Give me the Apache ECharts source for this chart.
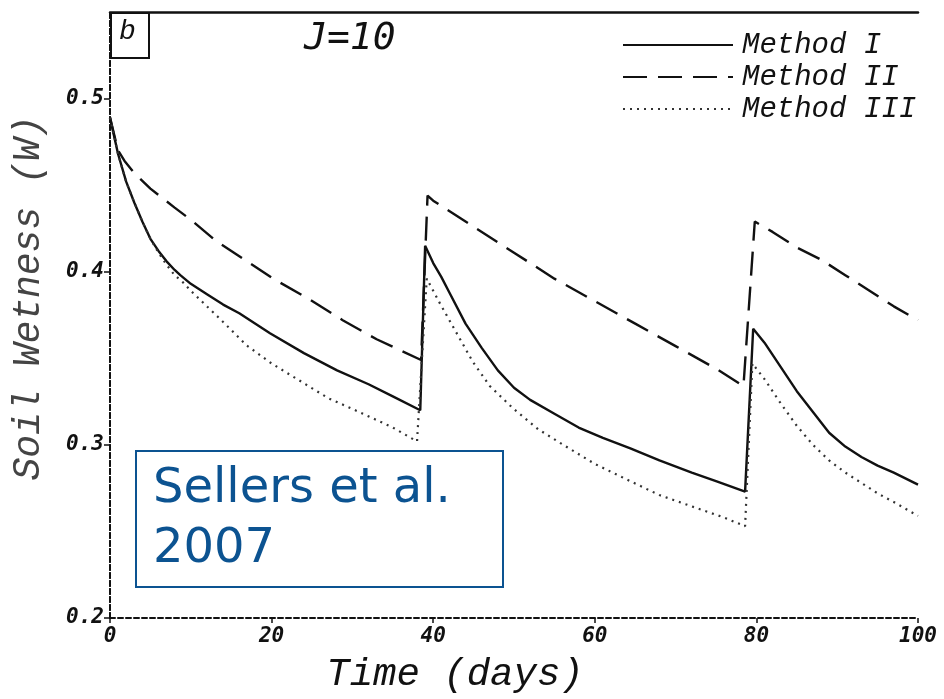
<!DOCTYPE html>
<html>
<head>
<meta charset="utf-8">
<script src="https://cdn.jsdelivr.net/npm/echarts@6/dist/echarts.min.js"></script>
<style>html,body{margin:0;padding:0;background:#fff}#c{width:944px;height:699px}</style>
</head>
<body>
<div id="c"></div>
<script>
// ---- data ----
const xTicks = [0, 20, 40, 60, 80, 100];
const yTicks = [0.2, 0.3, 0.4, 0.5];
const seriesNames = ['Method I', 'Method II', 'Method III'];

const timeI = [0,1,2,3,4,5,6,7,8,8.7,10,12,14,16,19.8,24,28.1,32,35,38.4,
  39.0,40,41,42,44,46,48,50,52,55,58,61,64.4,68,72,75,78.6,
  79.6,81,83,85,87,89,91,93,95,97,100];
const wetI = [0.489,0.468,0.452,0.440,0.429,0.419,0.412,0.406,0.401,0.398,0.393,0.387,0.381,0.376,0.3645,0.353,0.343,0.335,0.328,0.320,
  0.415,0.405,0.397,0.388,0.370,0.356,0.343,0.333,0.326,0.318,0.310,0.304,0.298,0.291,0.284,0.279,0.273,
  0.367,0.359,0.345,0.331,0.319,0.307,0.299,0.293,0.288,0.284,0.277];

const timeII = [0,1,1.8,3,5,8,10,13.2,16,20.2,24.7,28.8,33,38.5,
  39.3,40,45,50,55,60,65,70,75,78.4,
  79.8,82,85,88,91,94,97,100];
const wetII = [0.489,0.470,0.464,0.457,0.448,0.437,0.430,0.4175,0.409,0.396,0.384,0.372,0.361,0.349,
  0.444,0.441,0.426,0.411,0.396,0.383,0.370,0.357,0.344,0.334,
  0.429,0.423,0.414,0.407,0.398,0.389,0.380,0.372];

const timeIII = [0,1,2,3,4,5,6,7,8,9,10,12,14,16.9,20,23.5,27,31.3,35,38,
  39.2,40,40.8,42,44.9,47,49.9,53,56.1,60,64.4,68,72.6,76,78.6,
  79.5,81,83,85,87,89,91,93,95,97,100];
const wetIII = [0.489,0.468,0.452,0.440,0.429,0.419,0.411,0.404,0.398,0.394,0.389,0.380,0.371,0.3575,0.347,0.337,0.327,0.318,0.310,0.302,
  0.396,0.389,0.382,0.372,0.348,0.334,0.321,0.309,0.300,0.289,0.279,0.271,0.2635,0.258,0.253,
  0.347,0.338,0.324,0.311,0.300,0.291,0.284,0.278,0.272,0.267,0.259];

const pairs = (t, w) => t.map((v, i) => [v, w[i]]);

const chart = echarts.init(document.getElementById('c'), null, {renderer: 'canvas'});
const tickFont = {fontFamily: 'DejaVu Sans Mono', fontStyle: 'oblique', fontWeight: 'bold', fontSize: 21, color: '#111'};

chart.setOption({
  animation: false,
  backgroundColor: '#fff',
  grid: {left: 110, right: 26, top: 12, bottom: 71},
  legend: {
    orient: 'vertical', left: 617, top: 25,
    itemWidth: 110, itemHeight: 14, itemGap: 2,
    data: seriesNames,
    itemStyle: {color: 'rgba(0,0,0,0)', borderColor: 'rgba(0,0,0,0)', borderWidth: 0},
    textStyle: {fontFamily: 'Liberation Mono', fontStyle: 'italic', fontSize: 29, color: '#111', lineHeight: 30, padding: [0, 0, 0, 4]}
  },
  xAxis: [{
    type: 'value', min: 0, max: 100, interval: 20,
    name: 'Time (days)', nameLocation: 'middle', nameGap: 37,
    nameTextStyle: {fontFamily: 'Liberation Mono', fontStyle: 'italic', fontSize: 39, color: '#111', padding: [0, 118, 0, 0]},
    axisLine: {lineStyle: {color: '#111', width: 2, type: [5, 3]}},
    axisTick: {length: 5, lineStyle: {color: '#111', width: 1.5}},
    axisLabel: Object.assign({margin: 8}, tickFont),
    splitLine: {show: false}
  }, {
    type: 'value', min: 0, max: 100, position: 'top',
    axisLine: {lineStyle: {color: '#111', width: 2.5}},
    axisTick: {show: false}, axisLabel: {show: false}, splitLine: {show: false}
  }],
  yAxis: [{
    type: 'value', min: 0.2, max: 0.55, interval: 0.1,
    name: 'Soil Wetness (W)', nameLocation: 'middle', nameGap: 62,
    nameTextStyle: {fontFamily: 'Liberation Mono', fontStyle: 'italic', fontSize: 38, color: '#444', padding: [0, 0, 0, 34]},
    axisLine: {lineStyle: {color: '#111', width: 2, type: [5, 3]}},
    axisTick: {length: 6, customValues: yTicks, lineStyle: {color: '#111', width: 1.5}},
    axisLabel: Object.assign({margin: 6, customValues: yTicks,
      formatter: v => v.toFixed(1)}, tickFont),
    splitLine: {show: false}
  }, {
    type: 'value', min: 0.2, max: 0.55, position: 'right',
    axisLine: {show: true, lineStyle: {color: '#111', width: 2, type: [5, 3]}},
    axisTick: {show: false}, axisLabel: {show: false}, splitLine: {show: false}
  }],
  series: [{
    name: seriesNames[0], type: 'line', symbol: 'none', smooth: false,
    data: pairs(timeI, wetI),
    lineStyle: {color: '#111', width: 2.4, type: 'solid'}
  }, {
    name: seriesNames[1], type: 'line', symbol: 'none', smooth: false,
    data: pairs(timeII, wetII),
    lineStyle: {color: '#111', width: 2.4, type: [24, 11]}
  }, {
    name: seriesNames[2], type: 'line', symbol: 'none', smooth: false,
    data: pairs(timeIII, wetIII),
    lineStyle: {color: '#333', width: 2.2, type: [2, 5]}
  }],
  graphic: [
    {type: 'rect', left: 110, top: 12, shape: {width: 38, height: 45},
      style: {fill: '#fff', stroke: '#111', lineWidth: 2}, z: 100},
    {type: 'text', left: 119, top: 18, z: 101,
      style: {text: 'b', font: 'italic 28px "Liberation Mono"', fill: '#111'}},
    {type: 'text', left: 304, top: 20, z: 101,
      style: {text: 'J=10', font: 'oblique 38px "DejaVu Sans Mono"', fill: '#111'}},
    {type: 'rect', left: 135, top: 450, shape: {width: 367, height: 136},
      style: {fill: '#fff', stroke: '#0c5391', lineWidth: 2}, z: 100},
    {type: 'text', left: 153, top: 460, z: 101,
      style: {text: 'Sellers et al.\n2007', font: '48px "DejaVu Sans"', lineHeight: 60, fill: '#0c5391'}}
  ]
});
</script>
</body>
</html>
